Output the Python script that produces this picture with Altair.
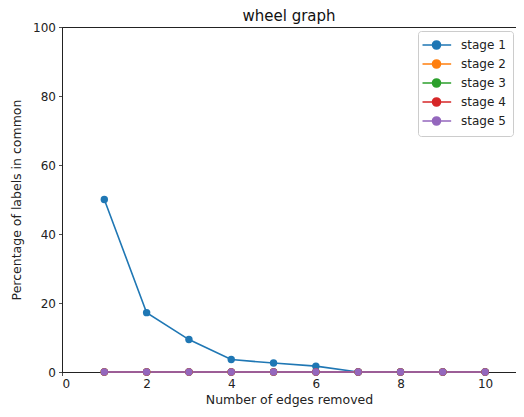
import altair as alt
import pandas as pd

edges_removed = [1, 2, 3, 4, 5, 6, 7, 8, 9, 10]
stage_names = ["stage 1", "stage 2", "stage 3", "stage 4", "stage 5"]
stage_values = {
    "stage 1": [50.0, 17.2, 9.4, 3.6, 2.6, 1.7, 0, 0, 0, 0],
    "stage 2": [0, 0, 0, 0, 0, 0, 0, 0, 0, 0],
    "stage 3": [0, 0, 0, 0, 0, 0, 0, 0, 0, 0],
    "stage 4": [0, 0, 0, 0, 0, 0, 0, 0, 0, 0],
    "stage 5": [0, 0, 0, 0, 0, 0, 0, 0, 0, 0],
}
colors = ["#1f77b4", "#ff7f0e", "#2ca02c", "#d62728", "#9467bd"]
x_ticks = [0, 2, 4, 6, 8, 10]
y_ticks = [0, 20, 40, 60, 80, 100]

rows = []
for i, s in enumerate(stage_names):
    for x, v in zip(edges_removed, stage_values[s]):
        rows.append({"edges": x, "pct": v, "stage": s, "order": i})
df = pd.DataFrame(rows)

FONT = "DejaVu Sans"
sym = "M-1.64,0 H3.31 M0.09,0 A0.69,0.69 0 1,1 1.47,0 A0.69,0.69 0 1,1 0.09,0 Z"

color = alt.Color(
    "stage:N",
    scale=alt.Scale(domain=stage_names, range=colors),
    legend=alt.Legend(
        title=None,
        orient="none",
        legendX=356,
        legendY=4,
        symbolType=sym,
        symbolSize=134,
        symbolStrokeWidth=1.6,
        labelOffset=22,
        labelFontSize=12,
        labelFont=FONT,
        labelColor="#222",
        rowPadding=3,
        padding=7,
        strokeColor="#cccccc",
        fillColor="white",
        cornerRadius=3,
    ),
)

chart = (
    alt.Chart(df)
    .mark_line(point=alt.OverlayMarkDef(filled=True, size=55, opacity=1), strokeWidth=1.6)
    .encode(
        x=alt.X(
            "edges:Q",
            scale=alt.Scale(domain=[0, 10.73], nice=False, zero=False),
            axis=alt.Axis(values=x_ticks, title="Number of edges removed", grid=False, format="d"),
        ),
        y=alt.Y(
            "pct:Q",
            scale=alt.Scale(domain=[0, 100], nice=False),
            axis=alt.Axis(values=y_ticks, title="Percentage of labels in common", grid=False, format="d"),
        ),
        color=color,
        order="order:Q",
    )
    .properties(
        width=454,
        height=345,
        title=alt.TitleParams("wheel graph", font=FONT, fontSize=15, fontWeight="normal", color="#111", offset=4, dy=7),
        autosize=alt.AutoSizeParams(type="none"),
        padding={"left": 54, "top": 19, "right": 0, "bottom": 37},
    )
    .configure_view(stroke="#222", strokeWidth=1)
    .configure_axis(
        domainColor="#222",
        tickColor="#222",
        tickSize=3.5,
        tickWidth=0.8,
        labelFont=FONT,
        labelFontSize=12,
        labelColor="#222",
        labelPadding=3,
        titleFont=FONT,
        titleFontSize=12.5,
        titleFontWeight="normal",
        titleColor="#222",
    )
    .configure_axisX(titlePadding=4, labelPadding=3)
    .configure_axisY(titlePadding=9)
)

chart.save("out.html", embed_options={"renderer": "svg", "actions": False})
